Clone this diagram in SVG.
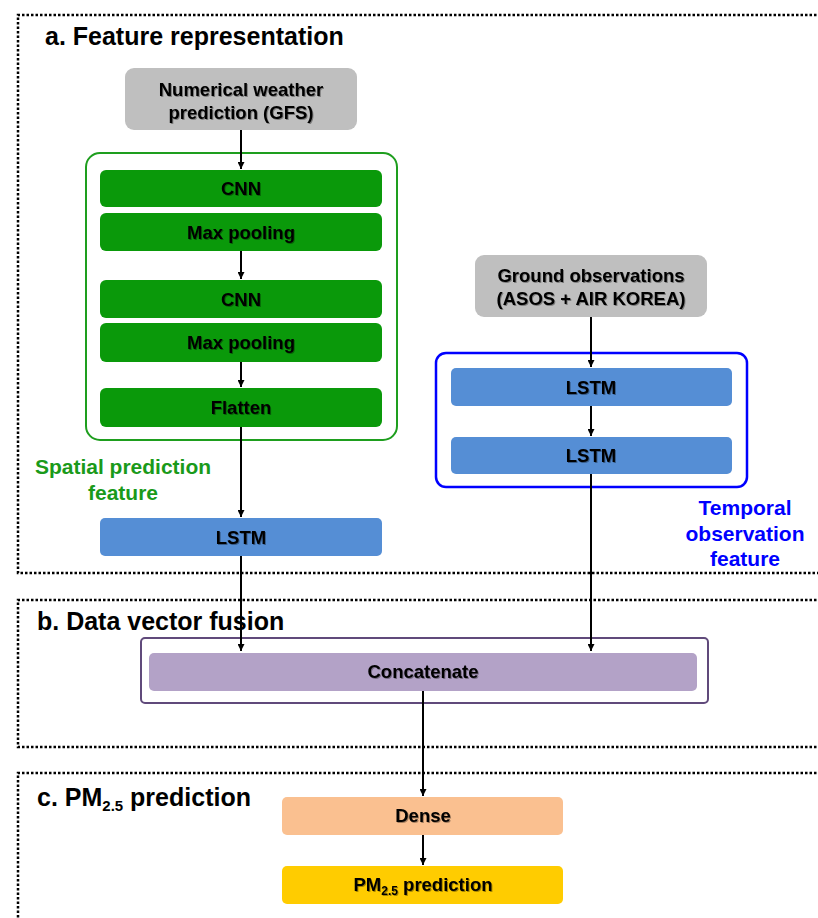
<svg xmlns="http://www.w3.org/2000/svg" width="818" height="918" viewBox="0 0 818 918">
<defs>
<marker id="arr" viewBox="0 0 10 10" refX="10" refY="5" markerWidth="7" markerHeight="7" markerUnits="userSpaceOnUse" orient="auto">
<path d="M0,0 L10,5 L0,10 z" fill="#000"/>
</marker>
<filter id="sh" x="-10%" y="-30%" width="120%" height="160%">
<feDropShadow dx="1" dy="1" stdDeviation="0.6" flood-color="#000" flood-opacity="0.35"/>
</filter>
</defs>
<style>
.sec{fill:none;stroke:#000;stroke-width:2.5;stroke-dasharray:2.5 2;}
.title{font-family:"Liberation Sans",Arial,sans-serif;font-weight:bold;font-size:25px;fill:#000;}
.lbl{font-family:"Liberation Sans",Arial,sans-serif;font-weight:bold;font-size:18.5px;fill:#000;text-anchor:middle;filter:url(#sh);}
.cap{font-family:"Liberation Sans",Arial,sans-serif;font-weight:bold;font-size:21px;text-anchor:middle;}
.gray{fill:#BFBFBF;}
.green{fill:#0A990A;}
.blue{fill:#558ED5;}
.conn{stroke:#000;stroke-width:2;fill:none;marker-end:url(#arr);}
</style>
<rect width="818" height="918" fill="#fff"/>

<g id="sections">
<path class="sec" d="M830,15 L18,15 L18,573 L830,573"/>
<path class="sec" d="M830,600 L18,600 L18,747 L830,747"/>
<path class="sec" d="M830,773 L18,773 L18,930"/>
<text class="title" x="45" y="45" font-size="25.8">a. Feature representation</text>
<text class="title" x="37" y="630">b. Data vector fusion</text>
<text class="title" x="37" y="806">c. PM<tspan font-size="15" dy="5">2.5</tspan><tspan dy="-5"> prediction</tspan></text>
</g>

<g id="spatial-container">
<rect x="86" y="153" width="311" height="287" rx="14" fill="#fff" stroke="#1E9E1E" stroke-width="2"/>
<text class="cap" fill="#1A9A1A" x="123" y="474">Spatial prediction</text>
<text class="cap" fill="#1A9A1A" x="123" y="500">feature</text>
</g>

<g id="temporal-container">
<rect x="436" y="353" width="311" height="134" rx="10" fill="#fff" stroke="#0000FF" stroke-width="2.5"/>
<text class="cap" fill="#0000FF" x="745" y="515">Temporal</text>
<text class="cap" fill="#0000FF" x="745" y="541">observation</text>
<text class="cap" fill="#0000FF" x="745" y="566">feature</text>
</g>

<g id="concat-container">
<rect x="141" y="638" width="567" height="65" rx="4" fill="#fff" stroke="#604A7B" stroke-width="2"/>
</g>

<g id="gfs">
<rect class="gray" x="125" y="68" width="232" height="62" rx="9"/>
<text class="lbl" x="241" y="96">Numerical weather</text>
<text class="lbl" x="241" y="119">prediction (GFS)</text>
</g>
<g id="cnn1"><rect class="green" x="100" y="170" width="282" height="37" rx="6"/><text class="lbl" x="241" y="195">CNN</text></g>
<g id="pool1"><rect class="green" x="100" y="213" width="282" height="38" rx="6"/><text class="lbl" x="241" y="239">Max pooling</text></g>
<g id="cnn2"><rect class="green" x="100" y="280" width="282" height="38" rx="6"/><text class="lbl" x="241" y="306">CNN</text></g>
<g id="pool2"><rect class="green" x="100" y="323" width="282" height="39" rx="6"/><text class="lbl" x="241" y="349">Max pooling</text></g>
<g id="flatten"><rect class="green" x="100" y="388" width="282" height="39" rx="6"/><text class="lbl" x="241" y="414">Flatten</text></g>
<g id="lstm-s"><rect class="blue" x="100" y="518" width="282" height="38" rx="5"/><text class="lbl" x="241" y="544">LSTM</text></g>

<g id="ground">
<rect class="gray" x="475" y="255" width="232" height="62" rx="9"/>
<text class="lbl" x="591" y="282">Ground observations</text>
<text class="lbl" x="591" y="305">(ASOS + AIR KOREA)</text>
</g>
<g id="lstm-t1"><rect class="blue" x="451" y="368" width="281" height="38" rx="5"/><text class="lbl" x="591" y="394">LSTM</text></g>
<g id="lstm-t2"><rect class="blue" x="451" y="437" width="281" height="37" rx="5"/><text class="lbl" x="591" y="462">LSTM</text></g>

<g id="concatenate"><rect x="149" y="653" width="548" height="38" rx="5" fill="#B3A2C7"/><text class="lbl" x="423" y="678">Concatenate</text></g>
<g id="dense"><rect x="282" y="797" width="281" height="38" rx="5" fill="#FAC090"/><text class="lbl" x="423" y="822">Dense</text></g>
<g id="pm25"><rect x="282" y="866" width="281" height="38" rx="5" fill="#FFCC00"/><text class="lbl" x="423" y="891">PM<tspan font-size="12" dy="4">2.5</tspan><tspan dy="-4"> prediction</tspan></text></g>

<g id="connectors">
<line class="conn" x1="241" y1="130" x2="241" y2="169"/>
<line class="conn" x1="241" y1="251" x2="241" y2="279"/>
<line class="conn" x1="241" y1="362" x2="241" y2="387"/>
<line class="conn" x1="241" y1="427" x2="241" y2="517"/>
<line class="conn" x1="241" y1="556" x2="241" y2="651"/>
<line class="conn" x1="591" y1="317" x2="591" y2="367"/>
<line class="conn" x1="591" y1="406" x2="591" y2="436"/>
<line class="conn" x1="591" y1="474" x2="591" y2="651"/>
<line class="conn" x1="423" y1="691" x2="423" y2="796"/>
<line class="conn" x1="423" y1="835" x2="423" y2="865"/>
</g>
</svg>
